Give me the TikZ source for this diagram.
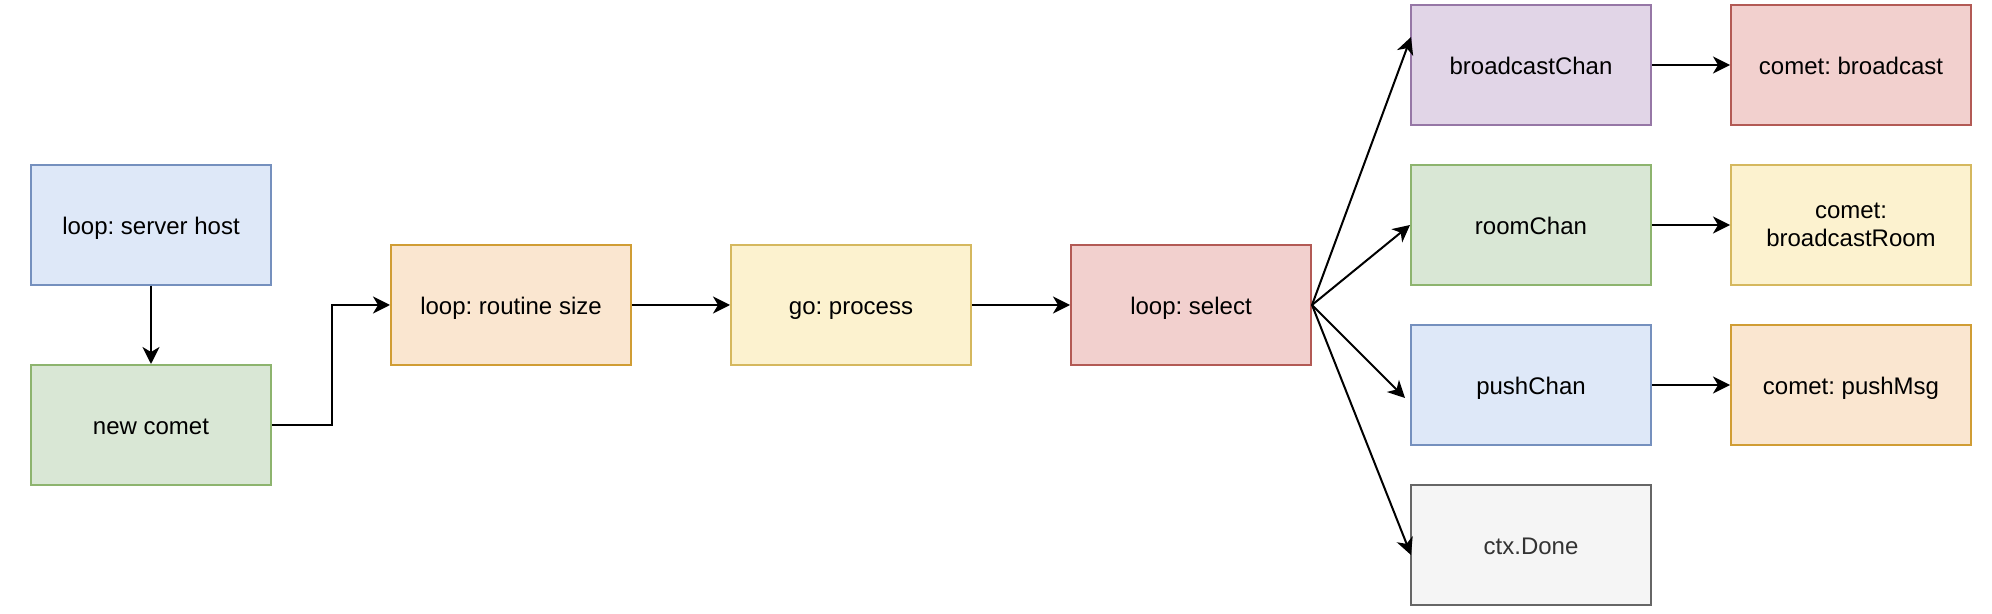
\documentclass[tikz,border=0pt]{standalone}
\usepackage{fontspec}
\setmainfont{Liberation Sans}
\usetikzlibrary{arrows.meta}
\frenchspacing
\definecolor{bluef}{HTML}{DEE8F8}\definecolor{blued}{HTML}{7590BE}
\definecolor{greenf}{HTML}{D9E7D5}\definecolor{greend}{HTML}{8DB46E}
\definecolor{orangef}{HTML}{FAE6D0}\definecolor{oranged}{HTML}{D09D34}
\definecolor{yellowf}{HTML}{FCF2CF}\definecolor{yellowd}{HTML}{D5B85E}
\definecolor{redf}{HTML}{F2D0CE}\definecolor{redd}{HTML}{B35A55}
\definecolor{purplef}{HTML}{E1D5E7}\definecolor{purpled}{HTML}{9677A6}
\definecolor{grayf}{HTML}{F5F5F5}\definecolor{grayd}{HTML}{666666}
\definecolor{grayt}{HTML}{333333}
\tikzset{
  box/.style={draw, line width=1pt, minimum width=120pt, minimum height=60pt,
    inner sep=2pt, align=center, text height=9.2pt, text depth=0pt,
    font=\fontsize{12}{14}\selectfont\frenchspacing},
  bluebox/.style={box, fill=bluef, draw=blued},
  greenbox/.style={box, fill=greenf, draw=greend},
  orangebox/.style={box, fill=orangef, draw=oranged},
  yellowbox/.style={box, fill=yellowf, draw=yellowd},
  redbox/.style={box, fill=redf, draw=redd},
  purplebox/.style={box, fill=purplef, draw=purpled},
  graybox/.style={box, fill=grayf, draw=grayd, text=grayt},
  arr/.style={draw, line width=1pt, -{Stealth[length=8.5pt, width=8.5pt, inset=2.5pt]}},
}
\begin{document}
\begin{tikzpicture}[x=0.5pt, y=-0.5pt]
\useasboundingbox (0,0) rectangle (1992,614);
\node[bluebox]   (sh) at (151,225) {loop: server host};
\node[greenbox]  (nc) at (151,425) {new comet};
\node[orangebox] (rs) at (511,305) {loop: routine size};
\node[yellowbox] (gp) at (851,305) {go: process};
\node[redbox]    (ls) at (1191,305) {loop: select};
\node[purplebox] (bc) at (1531,65) {broadcastChan};
\node[redbox]    (cb) at (1851,65) {comet: broadcast};
\node[greenbox]  (rc) at (1531,225) {roomChan};
\node[yellowbox, text height=, text depth=] (cr) at (1851,225) {comet:\\broadcastRoom};
\node[bluebox]   (pc) at (1531,385) {pushChan};
\node[orangebox] (cp) at (1851,385) {comet: pushMsg};
\node[graybox]   (cd) at (1531,545) {ctx.Done};
\coordinate (tb) at (1411,37);
\coordinate (tp) at (1405,398);
\coordinate (td) at (1411,555);
\draw[arr] (sh) -- (nc);
\draw[arr] (nc.east) -- ++(60,0) |- (rs.west);
\draw[arr] (rs) -- (gp);
\draw[arr] (gp) -- (ls);
\draw[arr] (ls.east) -- (tb);
\draw[arr] (ls.east) -- (rc.west);
\draw[arr] (ls.east) -- (tp);
\draw[arr] (ls.east) -- (td);
\draw[arr] (bc) -- (cb);
\draw[arr] (rc) -- (cr);
\draw[arr] (pc) -- (cp);
\end{tikzpicture}
\end{document}
